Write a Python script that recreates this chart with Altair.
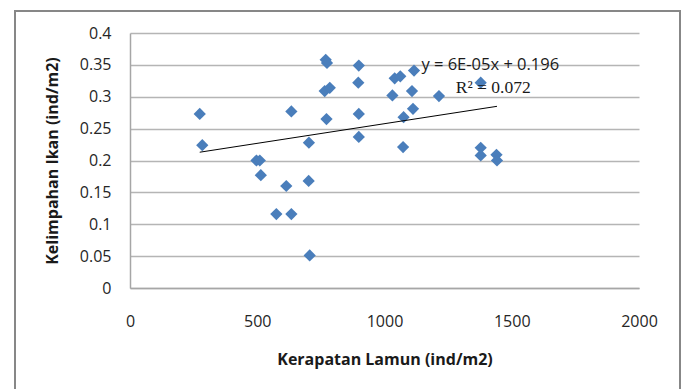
import altair as alt
import pandas as pd

# Data
density = [274, 284, 497, 510, 514, 575, 614, 634, 634, 702, 703, 706, 765, 769,
           772, 774, 785, 897, 899, 899, 899, 1031, 1040, 1062, 1073, 1075, 1108,
           1112, 1116, 1214, 1378, 1378, 1378, 1440, 1442]
abundance = [0.273, 0.224, 0.200, 0.200, 0.177, 0.116, 0.160, 0.116, 0.277, 0.168,
             0.228, 0.051, 0.309, 0.358, 0.265, 0.353, 0.314, 0.322, 0.349, 0.273,
             0.237, 0.302, 0.329, 0.332, 0.221, 0.268, 0.309, 0.281, 0.341, 0.301,
             0.322, 0.220, 0.208, 0.209, 0.200]

trend_x = [274, 1442]
trend_y = [0.213, 0.285]

x_ticks = [0, 500, 1000, 1500, 2000]
y_ticks = [0, 0.05, 0.1, 0.15, 0.2, 0.25, 0.3, 0.35, 0.4]

eq_label = ["y = 6E-05x + 0.196"]
eq_x = [1145]
eq_y = [0.350]
r2_label = ["R\u00b2 = 0.072"]
r2_x = [1280]
r2_y = [0.3137]

pts = pd.DataFrame({"x": density, "y": abundance})
trend = pd.DataFrame({"x": trend_x, "y": trend_y})
eq = pd.DataFrame({"x": eq_x, "y": eq_y, "t": eq_label})
r2 = pd.DataFrame({"x": r2_x, "y": r2_y, "t": r2_label})

xscale = alt.Scale(domain=[0, 2000], nice=False)
yscale = alt.Scale(domain=[0, 0.4], nice=False)

xaxis = alt.Axis(values=x_ticks, format="d", labelOverlap=False, labelFlush=False,
                 grid=False, ticks=False, tickSize=0,
                 labelPadding=25, labelFontSize=16, labelFont="Open Sans",
                 labelColor="#262626", domainColor="#a6a6a6", domainWidth=1.5,
                 title="Kerapatan Lamun (ind/m2)", titleFont="Open Sans",
                 titleFontSize=16, titleFontWeight="bold", titleColor="#1a1a1a",
                 titleBaseline="alphabetic", titleY=76)
yaxis = alt.Axis(values=y_ticks, format=".2~f", labelOverlap=False, labelFlush=False,
                 grid=True, gridColor="#b5b5b5", gridWidth=1.5, ticks=False, tickSize=0,
                 labelPadding=19,
                 labelFontSize=16, labelFont="Open Sans", labelColor="#262626",
                 domainColor="#a6a6a6", domainWidth=1.5,
                 title="Kelimpahan Ikan (ind/m2)", titleFont="Open Sans",
                 titleFontSize=16, titleFontWeight="bold", titleColor="#1a1a1a",
                 titleAngle=-90, titleBaseline="alphabetic", titleX=-73, titleY=127.5,
                 titleAlign="center")

def X():
    return alt.X("x:Q", scale=xscale, axis=xaxis)

def Y():
    return alt.Y("y:Q", scale=yscale, axis=yaxis)

border = alt.Chart(pd.DataFrame({"a": [0]})).mark_rect(
    fill="transparent", stroke="#878787", strokeWidth=2
).encode(x=alt.value(-115), x2=alt.value(550), y=alt.value(-22), y2=alt.value(380))

points = alt.Chart(pts).mark_point(
    shape="diamond", filled=True, size=150, color="#4a7ebb", opacity=1
).encode(x=X(), y=Y())

line = alt.Chart(trend).mark_line(color="#000000", strokeWidth=1).encode(x=X(), y=Y())

eq_text = alt.Chart(eq).mark_text(
    align="left", baseline="middle", font="Open Sans", fontSize=16.5, color="#1a1a1a"
).encode(x=X(), y=Y(), text="t:N")

r2_text = alt.Chart(r2).mark_text(
    align="left", baseline="middle", font="Liberation Serif", fontSize=17.5, color="#1a1a1a"
).encode(x=X(), y=Y(), text="t:N")

chart = alt.layer(border, points, line, eq_text, r2_text).properties(
    width=509, height=255,
    autosize=alt.AutoSizeParams(type="none"),
    padding={"left": 130, "top": 33, "right": 46, "bottom": 101},
    background="white",
).configure_view(strokeOpacity=0)

chart.save("out.html", embed_options={"renderer": "svg", "actions": False})
